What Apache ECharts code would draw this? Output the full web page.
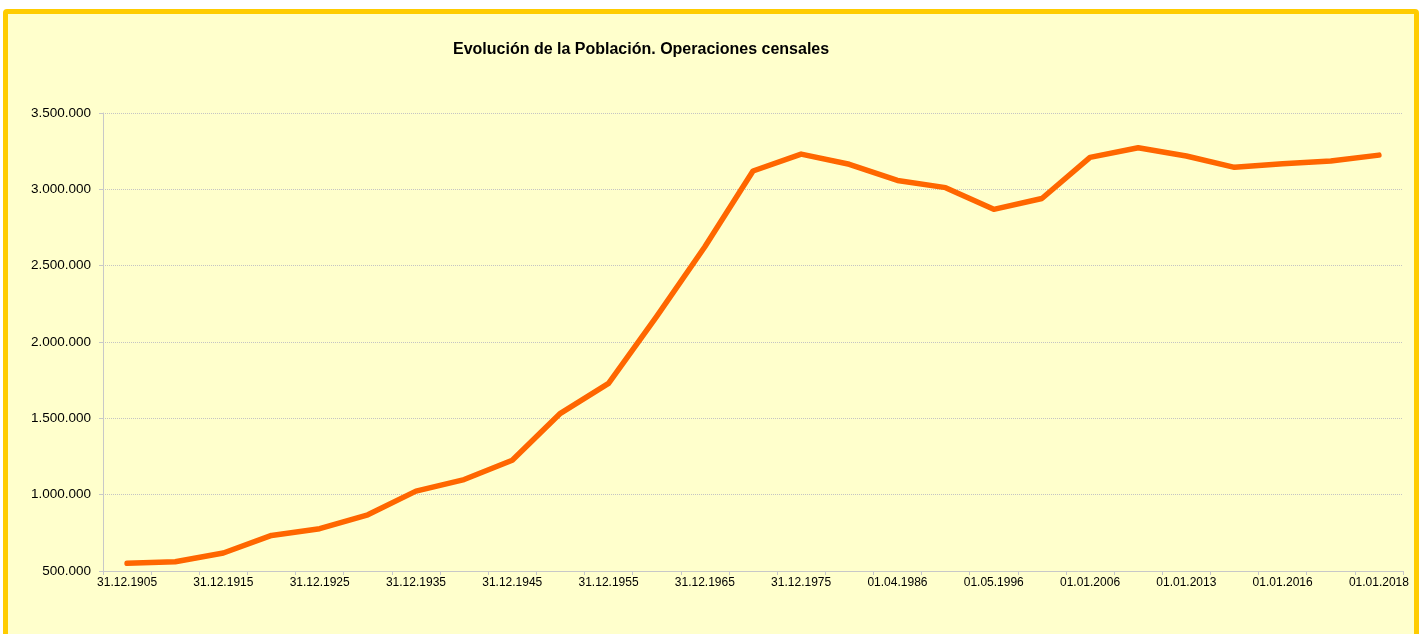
<!DOCTYPE html>
<html>
<head>
<meta charset="utf-8">
<script src="https://cdn.jsdelivr.net/npm/echarts@6/dist/echarts.min.js"></script>
<style>
  html, body { margin: 0; padding: 0; background: #ffffff; width: 1424px; height: 634px; overflow: hidden; }
  #frame { position: absolute; left: 3px; top: 9px; width: 1406px; height: 640px; border: 5px solid #FFCC00; border-radius: 4px; background: #FFFFCC; }
  #chart { position: absolute; left: 0; top: 0; width: 1424px; height: 634px; }
</style>
</head>
<body>
<div id="frame"></div>
<div id="chart"></div>
<script>
const categories = [
  "31.12.1905", "31.12.1910", "31.12.1915", "31.12.1920", "31.12.1925", "31.12.1930",
  "31.12.1935", "31.12.1940", "31.12.1945", "31.12.1950", "31.12.1955", "31.12.1960",
  "31.12.1965", "31.12.1970", "31.12.1975", "01.03.1981", "01.04.1986", "01.03.1991",
  "01.05.1996", "01.11.2001", "01.01.2006", "01.01.2010", "01.01.2013", "01.01.2015",
  "01.01.2016", "01.01.2017", "01.01.2018"
];
const population = [
  550000, 561000, 618000, 733000, 777000, 868000,
  1023000, 1099000, 1225000, 1533000, 1729000, 2168000,
  2624000, 3120000, 3231000, 3164000, 3058000, 3011000,
  2869000, 2940000, 3209000, 3272000, 3218000, 3144000,
  3168000, 3185000, 3224000
];
const titleText = "Evolución de la Población. Operaciones censales";

function fmt(v) {
  return String(v).replace(/\B(?=(\d{3})+(?!\d))/g, ".");
}

const chart = echarts.init(document.getElementById('chart'), null, { renderer: 'canvas' });
chart.setOption({
  backgroundColor: 'transparent',
  animation: false,
  title: {
    text: titleText,
    left: 448,
    top: 37,
    textStyle: { fontFamily: 'Liberation Sans, Arial, sans-serif', fontSize: 16, fontWeight: 'bold', color: '#000' }
  },
  grid: { left: 103, right: 21, top: 113, bottom: 63, containLabel: false },
  xAxis: {
    type: 'category',
    data: categories,
    boundaryGap: true,
    axisLine: { show: true, lineStyle: { color: '#c8c8c8', width: 1 } },
    axisTick: { show: true, interval: 0, length: 4, lineStyle: { color: '#c8c8c8' } },
    axisLabel: { interval: 1, margin: 6, fontFamily: 'Liberation Sans, Arial, sans-serif', fontSize: 12, color: '#000' },
    splitLine: { show: false }
  },
  yAxis: {
    type: 'value',
    min: 500000,
    max: 3500000,
    interval: 500000,
    axisLine: { show: true, lineStyle: { color: '#c8c8c8', width: 1 } },
    axisTick: { show: true, length: 4, lineStyle: { color: '#c8c8c8' } },
    axisLabel: { margin: 12, fontFamily: 'Liberation Sans, Arial, sans-serif', fontSize: 13.5, color: '#000', formatter: fmt },
    splitLine: { show: true, lineStyle: { color: '#c4c4c4', type: [1, 1], width: 1 } }
  },
  series: [{
    type: 'line',
    data: population,
    showSymbol: false,
    symbol: 'none',
    lineStyle: { color: '#FF6600', width: 5.5, cap: 'round', join: 'round' },
    itemStyle: { color: '#FF6600' }
  }]
});
</script>
</body>
</html>
